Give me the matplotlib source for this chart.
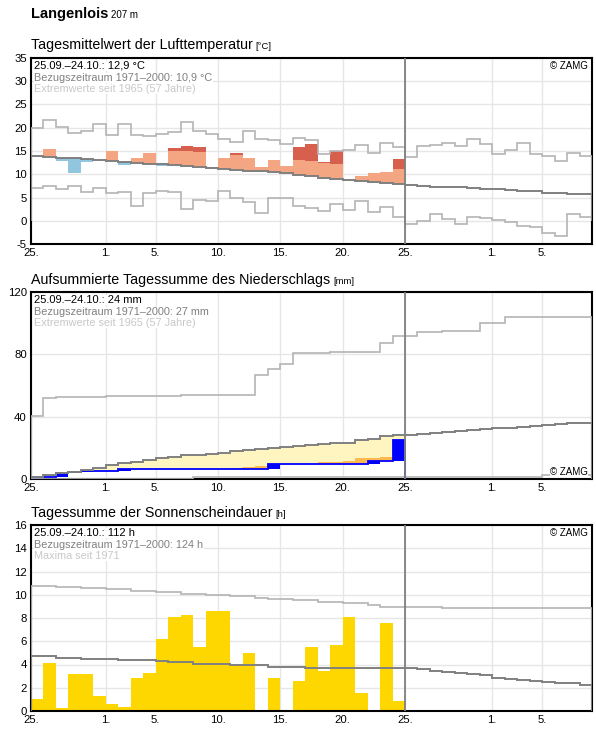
import matplotlib
matplotlib.use('Agg')
import matplotlib.pyplot as plt
import numpy as np

plt.rcParams['font.family'] = ['Liberation Sans', 'DejaVu Sans']
plt.rcParams['axes.unicode_minus'] = False

station = 'Langenlois'
altitude = '207 m'

# x axis: day 0 = 25.09., 45 days shown, data for 30 days
tick_pos = [0, 6, 10, 15, 20, 25, 30, 37, 41]
tick_labels = ['25.', '1.', '5.', '10.', '15.', '20.', '25.', '1.', '5.']

# air temperature, daily mean [°C]
temp_mean = [14.0, 15.5, 12.8, 10.2, 12.6, 13.1, 14.9, 12.0, 13.4, 14.5,
             11.8, 15.6, 16.1, 15.8, 11.6, 13.4, 14.5, 13.6, 11.6, 13.1,
             11.7, 15.9, 16.4, 12.7, 14.9, 8.7, 9.65, 10.2, 10.4, 13.3]
temp_clim = [14.0, 13.8, 13.5, 13.4, 13.3, 13.1, 12.9, 12.7, 12.5, 12.3,
             12.1, 11.9, 11.7, 11.6, 11.4, 11.2, 11.0, 10.8, 10.6, 10.4,
             10.3, 9.8, 9.6, 9.2, 8.9, 8.7, 8.5, 8.3, 8.1, 7.9,
             7.7, 7.5, 7.35, 7.35, 7.2, 7.0, 6.85, 6.8, 6.55, 6.35,
             6.3, 6.05, 6.0, 5.75, 5.7]
temp_max = [19.9, 21.7, 20.1, 18.8, 19.4, 20.9, 18.5, 20.9, 18.5, 18.3,
            18.6, 19.1, 21.2, 19.4, 18.6, 17.6, 16.9, 19.3, 17.6, 17.4,
            16.5, 17.8, 17.3, 14.4, 15.0, 15.3, 16.2, 14.5, 16.7, 15.8,
            13.7, 16.0, 16.3, 16.7, 16.1, 17.6, 16.5, 14.3, 15.2, 16.7,
            14.3, 14.0, 12.8, 14.6, 13.9]
temp_min = [7.0, 7.4, 6.8, 7.4, 6.1, 7.0, 5.9, 6.1, 3.2, 5.9,
            6.3, 6.1, 2.5, 4.5, 4.2, 6.3, 4.8, 4.0, 1.6, 4.8,
            4.8, 3.2, 2.7, 2.0, 3.5, 2.3, 4.2, 1.8, 2.9, 0.7,
            -0.8, -0.1, 1.4, 0.3, -0.8, 0.7, 0.5, 0.1, -0.3, -1.2,
            -1.4, -2.7, -3.2, 1.4, 0.7]
temp_sd = 3.2

# precipitation, accumulated [mm]
prec_cum = [1.0, 1.5, 3.9, 4.3, 4.9, 5.4, 5.4, 6.5, 6.5, 6.5,
            6.5, 6.5, 6.5, 6.5, 6.5, 6.5, 6.5, 6.5, 6.5, 9.6,
            9.7, 9.7, 9.7, 9.7, 9.7, 9.7, 9.7, 11.4, 11.6, 24.8]
prec_low = [0.0, 0.5, 1.0, 1.3, 1.6, 2.0, 2.4, 2.8, 3.2, 3.6,
            4.0, 4.5, 5.0, 5.5, 6.0, 6.4, 7.1, 7.8, 8.6, 8.9,
            9.2, 9.5, 9.7, 11.2, 11.2, 11.8, 13.3, 13.3, 14.4, 14.8]
prec_clim = [1.0, 2.6, 3.9, 4.7, 6.0, 7.3, 9.0, 10.3, 11.2, 12.5,
             13.3, 14.2, 15.1, 15.7, 16.2, 16.8, 17.7, 18.8, 19.5, 20.1,
             20.5, 21.2, 21.9, 22.7, 23.4, 23.4, 25.1, 25.9, 27.4, 28.3,
             28.3, 28.7, 29.3, 30.1, 30.8, 31.2, 31.9, 32.5, 33.0, 33.4,
             34.0, 34.7, 35.6, 36.2, 36.2]
prec_max = [40.4, 52.2, 52.5, 52.5, 52.8, 52.8, 53.0, 53.0, 53.2, 53.2,
            53.4, 53.4, 53.6, 53.6, 53.8, 53.8, 54.0, 54.0, 66.8, 70.3,
            73.9, 80.6, 80.9, 80.9, 81.3, 81.3, 81.3, 81.3, 87.1, 91.7,
            91.7, 94.4, 94.4, 95.0, 95.0, 95.0, 100.2, 100.2, 104.1, 104.1,
            104.1, 104.1, 104.1, 104.1, 104.1]
prec_min = [0.0] * 13 + [1.5] * 28 + [2.6] * 4

# sunshine duration [h]
sun = [1.0, 4.1, 0.3, 3.2, 3.2, 1.3, 0.6, 0.35, 2.86, 3.3,
       6.16, 8.07, 8.25, 5.47, 8.6, 8.6, 4.0, 4.95, 0.0, 2.86,
       0.0, 2.6, 5.47, 3.47, 5.64, 8.07, 1.56, 0.0, 7.55, 0.87]
sun_clim = [4.69, 4.69, 4.6, 4.6, 4.48, 4.48, 4.48, 4.37, 4.37, 4.37,
            4.31, 4.2, 4.2, 4.05, 4.05, 4.05, 3.96, 3.96, 3.96, 3.82,
            3.82, 3.82, 3.7, 3.7, 3.7, 3.7, 3.7, 3.7, 3.7, 3.7,
            3.7, 3.59, 3.42, 3.36, 3.27, 3.15, 3.07, 2.84, 2.75, 2.66,
            2.58, 2.5, 2.43, 2.4, 2.26]
sun_max = [10.74, 10.74, 10.65, 10.65, 10.56, 10.56, 10.47, 10.47, 10.36, 10.36,
           10.21, 10.21, 10.1, 10.1, 9.98, 9.98, 9.87, 9.87, 9.72, 9.64,
           9.64, 9.52, 9.52, 9.35, 9.35, 9.26, 9.26, 9.14, 8.97, 8.97,
           8.97, 8.97, 8.97, 8.83, 8.83, 8.83, 8.83, 8.83, 8.83, 8.83,
           8.83, 8.83, 8.83, 8.83, 8.83]

W, H = 596, 729
fig = plt.figure(figsize=(W / 100, H / 100), dpi=100)


def px_axes(left, top, right, bottom):
    return fig.add_axes([left / W, 1 - bottom / H, (right - left) / W, (bottom - top) / H])


def title(y, text, unit):
    t = fig.text(31 / W, 1 - y / H, text, fontsize=10.3, va='baseline', ha='left')
    r = fig.canvas.get_renderer()
    bb = t.get_window_extent(r)
    fig.text((bb.x1 + 3) / W, 1 - y / H, unit, fontsize=6.8, va='baseline', ha='left')


def style(ax, ymin, ymax, yticks):
    ax.set_xlim(0, 45)
    ax.set_ylim(ymin, ymax)
    ax.set_xticks(tick_pos)
    ax.set_xticklabels(tick_labels)
    ax.set_yticks(yticks)
    ax.tick_params(length=0, labelsize=8.2, pad=3)
    ax.grid(color='#e6e6e6', lw=1)
    ax.set_axisbelow(True)
    for s in ax.spines.values():
        s.set_linewidth(1.5)
    ax.axvline(30, color='#808080', lw=1.3, zorder=5)


def place_text(ax, dx, dy, txt, color, ha='left', size=8):
    trans = matplotlib.transforms.offset_copy(ax.transAxes, fig=fig, x=dx, y=dy, units='dots')
    yref = 1 if dy < 0 else 0
    ax.text(0 if ha == 'left' else 1, yref, txt, transform=trans, fontsize=size, color=color,
            va='center', ha=ha, zorder=6, bbox=dict(facecolor='white', edgecolor='none', pad=0.3))


days = np.arange(30)
edges = np.arange(46)
edges30 = np.arange(31)

fig.text(31 / W, 1 - 18 / H, station, fontsize=10.5, fontweight='bold', va='baseline')
r = fig.canvas.get_renderer()
bb = fig.texts[0].get_window_extent(r)
fig.text((bb.x1 + 3) / W, 1 - 18 / H, altitude, fontsize=7, va='baseline')

# --- temperature ---
ax1 = px_axes(31, 58, 592, 244)
title(49, 'Tagesmittelwert der Lufttemperatur', '[°C]')
tm = np.array(temp_mean)
tc = np.array(temp_clim[:30])
up1 = np.clip(np.minimum(tm, tc + temp_sd) - tc, 0, None)
up2 = np.clip(tm - (tc + temp_sd), 0, None)
dn1 = np.clip(tc - np.maximum(tm, tc - temp_sd), 0, None)
dn2 = np.clip((tc - temp_sd) - tm, 0, None)
ax1.bar(days, up1, bottom=tc, width=1, align='edge', color='#f4a582', lw=0, zorder=2)
ax1.bar(days, up2, bottom=tc + temp_sd, width=1, align='edge', color='#d6604d', lw=0, zorder=2)
ax1.bar(days, -dn1, bottom=tc, width=1, align='edge', color='#92c5de', lw=0, zorder=2)
ax1.bar(days, -dn2, bottom=tc - temp_sd, width=1, align='edge', color='#4393c3', lw=0, zorder=2)
ax1.stairs(temp_max, edges, color='#b4b4b4', lw=1.2, zorder=3)
ax1.stairs(temp_min, edges, color='#b4b4b4', lw=1.2, zorder=3)
ax1.stairs(temp_clim, edges, color='#808080', lw=1.4, zorder=4)
style(ax1, -5, 35, np.arange(-5, 36, 5))
place_text(ax1, 3, -8, '25.09.–24.10.: 12,9 °C', 'black')
place_text(ax1, 3, -20, 'Bezugszeitraum 1971–2000: 10,9 °C', '#808080', size=7.8)
place_text(ax1, 3, -31, 'Extremwerte seit 1965 (57 Jahre)', '#c8c8c8', size=7.8)
place_text(ax1, -4, -8, '© ZAMG', 'black', ha='right', size=7)

# --- precipitation ---
ax2 = px_axes(31, 292, 592, 479)
title(284, 'Aufsummierte Tagessumme des Niederschlags', '[mm]')
pc = np.array(prec_cum)
pcl = np.array(prec_clim[:30])
pl = np.array(prec_low)
prev = np.concatenate([[0], pc[:-1]])
ylo = np.maximum(pc, pl)
ax2.bar(days, np.clip(pcl - ylo, 0, None), bottom=ylo, width=1, align='edge', color='#fff5c0', lw=0, zorder=2)
ax2.bar(days, np.clip(pl - pc, 0, None), bottom=pc, width=1, align='edge', color='#fdb94e', lw=0, zorder=2)
ax2.bar(days, pc - prev, bottom=prev, width=1, align='edge', color='#0000ff', lw=0, zorder=3)
ax2.stairs(pc, edges30, color='#0000ff', lw=1.3, zorder=4)
ax2.stairs(prec_max, edges, color='#b4b4b4', lw=1.2, zorder=3)
ax2.stairs(prec_min, edges, color='#b4b4b4', lw=1.2, zorder=3)
ax2.stairs(prec_clim, edges, color='#808080', lw=1.4, zorder=4)
style(ax2, 0, 120, [0, 40, 80, 120])
place_text(ax2, 3, -8, '25.09.–24.10.: 24 mm', 'black')
place_text(ax2, 3, -20, 'Bezugszeitraum 1971–2000: 27 mm', '#808080', size=7.8)
place_text(ax2, 3, -31, 'Extremwerte seit 1965 (57 Jahre)', '#c8c8c8', size=7.8)
place_text(ax2, -4, 7, '© ZAMG', 'black', ha='right', size=7)

# --- sunshine ---
ax3 = px_axes(31, 525, 592, 711)
title(517, 'Tagessumme der Sonnenscheindauer', '[h]')
ax3.bar(days, sun, width=1, align='edge', color='#ffd700', lw=0, zorder=2)
ax3.stairs(sun_max, edges, color='#b4b4b4', lw=1.2, zorder=3)
ax3.stairs(sun_clim, edges, color='#808080', lw=1.4, zorder=4)
style(ax3, 0, 16, np.arange(0, 17, 2))
place_text(ax3, 3, -8, '25.09.–24.10.: 112 h', 'black')
place_text(ax3, 3, -20, 'Bezugszeitraum 1971–2000: 124 h', '#808080', size=7.8)
place_text(ax3, 3, -31, 'Maxima seit 1971', '#c8c8c8', size=7.8)
place_text(ax3, -4, -8, '© ZAMG', 'black', ha='right', size=7)

fig.savefig('out.png', dpi=100)
